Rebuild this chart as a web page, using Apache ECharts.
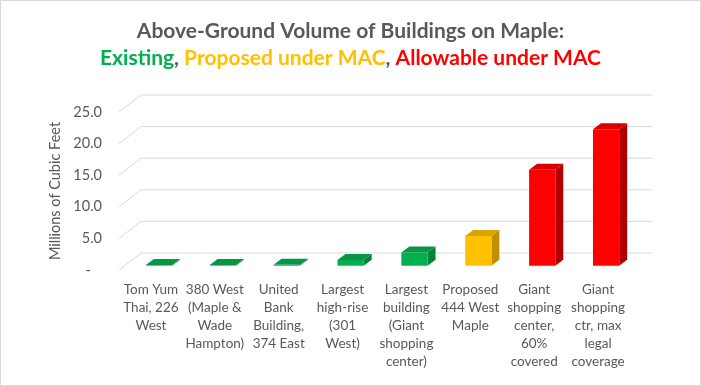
<!DOCTYPE html>
<html><head><meta charset="utf-8">
<script src="https://cdn.jsdelivr.net/npm/echarts@6/dist/echarts.min.js"></script>
<style>html,body{margin:0;padding:0;background:#fff}#c{width:701px;height:386px}</style>
</head><body><div id="c"></div>
<script>
const categories = [
  'Tom Yum\nThai, 226\nWest',
  '380 West\n(Maple &\nWade\nHampton)',
  'United\nBank\nBuilding,\n374 East',
  'Largest\nhigh-rise\n(301\nWest)',
  'Largest\nbuilding\n(Giant\nshopping\ncenter)',
  'Proposed\n444 West\nMaple',
  'Giant\nshopping\ncenter,\n60%\ncovered',
  'Giant\nshopping\nctr, max\nlegal\ncoverage'
];
const values = [0.1, 0.1, 0.15, 0.9, 2.1, 4.7, 15.2, 21.6];
const barGroups = ['existing','existing','existing','existing','existing','proposed','allowable','allowable'];
const yTicks = [0, 5, 10, 15, 20, 25];

const palettes = {
  existing:  {front:'#00B050', top:'#0A9446', side:'#00843C'},
  proposed:  {front:'#FFC000', top:'#D9A300', side:'#BF9000'},
  allowable: {front:'#FF0000', top:'#D90000', side:'#B00000'}
};
const WALL = [22, -17];
const BF = [8, -4.3];
const BB = [16, -10.3];

const chart = echarts.init(document.getElementById('c'), null, {renderer:'canvas'});
const tf = {fontSize: 21, lineHeight: 27, fontFamily:'Lato', fontWeight:'bold'};
chart.setOption({
  animation: false,
  backgroundColor: '#fff',
  textStyle: {fontFamily: 'Lato'},
  graphic: [{type:'rect', shape:{x:0.5,y:0.5,width:700,height:385}, style:{fill:'none', stroke:'#d9d9d9', lineWidth:1}, silent:true}],
  title: {
    left: 'center', top: 13,
    text: '{t|Above-Ground Volume of Buildings on Maple:}\n{g|Existing}{k|, }{y|Proposed under MAC}{k|, }{r|Allowable under MAC}',
    textStyle: {
      rich: {
        t: Object.assign({color:'#595959'}, tf),
        g: Object.assign({color:'#00B050'}, tf),
        y: Object.assign({color:'#FFC000'}, tf),
        r: Object.assign({color:'#FF0000'}, tf),
        k: Object.assign({color:'#595959'}, tf)
      }
    }
  },
  grid: {left: 119, right: 71, top: 112, bottom: 116},
  xAxis: {
    type: 'category', data: categories,
    axisLine: {show:false}, axisTick: {show:false},
    axisLabel: {interval: 0, color:'#595959', fontSize: 13.5, lineHeight: 18, margin: 11, fontFamily:'Lato'}
  },
  yAxis: {
    type: 'value', min: 0, max: 25, interval: 5,
    splitLine: {show:false}, axisLine:{show:false}, axisTick:{show:false},
    axisLabel: {color:'#595959', fontSize: 14.5, margin: 17, fontFamily:'Lato',
      formatter: v => v === 0 ? '-   ' : v.toFixed(1)},
    name: 'Millions of Cubic Feet', nameLocation: 'middle', nameGap: 54,
    nameTextStyle: {color:'#595959', fontSize: 14.5, fontFamily:'Lato'}
  },
  series: [
    {
      type: 'custom', clip: false, z: 1, silent: true,
      data: yTicks.map(v => [0, v]),
      encode: {x: 0, y: 1},
      renderItem(params, api) {
        const cs = params.coordSys;
        const y = api.coord([0, api.value(1)])[1];
        const x0 = cs.x, x1 = cs.x + cs.width;
        const st = {stroke:'#d9d9d9', lineWidth:1, fill:null};
        return {type:'group', children:[
          {type:'line', shape:{x1:x0, y1:y, x2:x0+WALL[0], y2:y+WALL[1]}, style:st},
          {type:'line', shape:{x1:x0+WALL[0], y1:y+WALL[1], x2:x1+WALL[0], y2:y+WALL[1]}, style:st}
        ]};
      }
    },
    {
      type: 'custom', clip: false, z: 2, silent: true,
      data: values.map((v, i) => [i, v]),
      encode: {x: 0, y: 1},
      renderItem(params, api) {
        const i = api.value(0), v = api.value(1);
        const base = api.coord([i, 0]), top = api.coord([i, v]);
        const band = api.size([1, 0])[0];
        const w = band * 0.41;
        const x0 = base[0] - w/2 + BF[0], x1 = x0 + w;
        const yb = base[1] + BF[1], yt = top[1] + BF[1];
        const ddx = BB[0]-BF[0], ddy = BB[1]-BF[1];
        const pal = palettes[barGroups[params.dataIndex]];
        return {type:'group', children:[
          {type:'polygon', shape:{points:[[x1,yb],[x1+ddx,yb+ddy],[x1+ddx,yt+ddy],[x1,yt]]}, style:{fill:pal.side}},
          {type:'polygon', shape:{points:[[x0,yt],[x1,yt],[x1+ddx,yt+ddy],[x0+ddx,yt+ddy]]}, style:{fill:pal.top}},
          {type:'rect', shape:{x:x0, y:yt, width:w, height:Math.max(0, yb-yt)}, style:{fill:pal.front}}
        ]};
      }
    }
  ]
});
</script></body></html>
